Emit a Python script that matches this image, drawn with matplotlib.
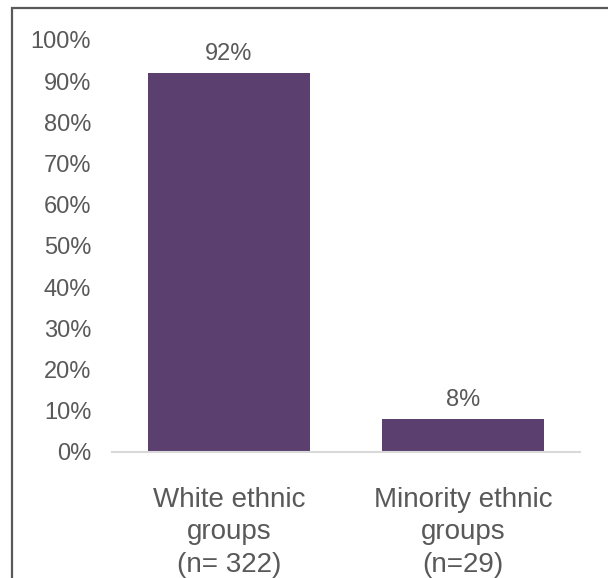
import matplotlib
matplotlib.use("Agg")
import matplotlib.pyplot as plt
from matplotlib.patches import Rectangle

plt.rcParams['font.family'] = ['Liberation Sans', 'DejaVu Sans']

categories = ["White ethnic\ngroups\n(n= 322)", "Minority ethnic\ngroups\n(n=29)"]
shares = [0.92, 0.08]
value_labels = ["92%", "8%"]
yticks = [0.0, 0.1, 0.2, 0.3, 0.4, 0.5, 0.6, 0.7, 0.8, 0.9, 1.0]
ytick_labels = ["0%", "10%", "20%", "30%", "40%", "50%", "60%", "70%", "80%", "90%", "100%"]

text_color = "#595959"
bar_color = "#5B3F6F"

fig = plt.figure(figsize=(6.08, 5.78), dpi=100)
ax = fig.add_axes([0.1842, 0.218, 0.7698, 0.7128])

x = list(range(len(categories)))
bars = ax.bar(x, shares, width=0.69, color=bar_color, zorder=2)
for xi, v, lab in zip(x, shares, value_labels):
    ax.annotate(lab, (xi, v), xytext=(0, 6), textcoords="offset points",
                ha="center", va="bottom", fontsize=17, color=text_color)

ax.set_xlim(-0.5, 1.5)
ax.set_ylim(0, 1.0)
ax.set_yticks(yticks)
ax.set_yticklabels(ytick_labels)
ax.set_xticks(x)
ax.set_xticklabels(categories, linespacing=1.33)

for s in ["top", "right", "left"]:
    ax.spines[s].set_visible(False)
ax.spines["bottom"].set_color("#D9D9D9")
ax.spines["bottom"].set_linewidth(1.5)

ax.tick_params(axis="y", length=0, pad=15, labelsize=17, labelcolor=text_color)
ax.tick_params(axis="x", length=0, pad=25, labelsize=20, labelcolor=text_color)

# chart frame, running past the right and bottom edges of the canvas
W, H = 608, 578
fig.patches.append(Rectangle((12 / W, -0.05), 1.05, (H - 8) / H + 0.05,
                             transform=fig.transFigure, fill=False,
                             edgecolor="#595959", linewidth=1.6))

fig.savefig("out.png", dpi=100)
